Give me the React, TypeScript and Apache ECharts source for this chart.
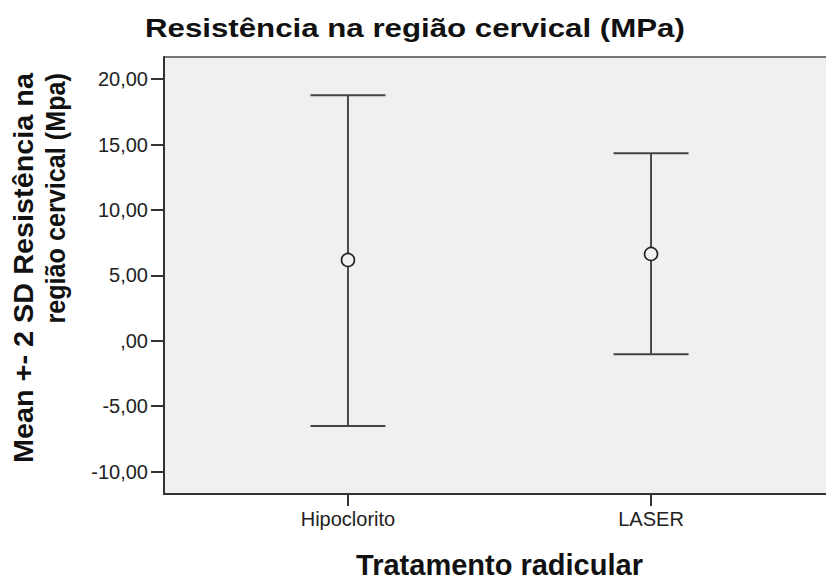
import React, { useEffect, useRef } from "react";
import * as echarts from "echarts";

const categories = ["Hipoclorito", "LASER"];
const means = [6.17, 6.63];
const lowerBounds = [-6.52, -1.04];
const upperBounds = [18.76, 14.33];
const yTicks = [-10, -5, 0, 5, 10, 15, 20];

const titleText = "Resistência na região cervical (MPa)";
const xTitle = "Tratamento radicular";
const yTitleLines = ["Mean +- 2 SD Resistência na", "região cervical (Mpa)"];

const fmtY = (v: number) => {
  if (v === 0) return ",00";
  return v.toFixed(2).replace(".", ",");
};

export default function App() {
  const ref = useRef<HTMLDivElement>(null);
  useEffect(() => {
    if (!ref.current) return;
    const chart = echarts.init(ref.current, undefined, { renderer: "svg" });
    const xPos = categories.map((_, i) => i + 1);
    const errData = categories.map((_, i) => [xPos[i], lowerBounds[i], upperBounds[i]]);
    const meanData = categories.map((_, i) => [xPos[i], means[i]]);
    const font = "Liberation Sans, Arial, sans-serif";
    chart.setOption({
      animation: false,
      backgroundColor: "#ffffff",
      grid: {
        left: 164,
        top: 57,
        right: -9,
        bottom: 86,
        show: true,
        backgroundColor: "#f0f0f0",
        borderColor: "#777",
        borderWidth: 2,
        containLabel: false,
        outerBoundsMode: "none",
      },
      graphic: [
        {
          type: "text",
          x: 145,
          y: 28,
          scaleX: 1.25,
          style: {
            text: titleText,
            font: `bold 25px ${font}`,
            fill: "#111",
            align: "left",
            verticalAlign: "middle",
          },
        },
        {
          type: "text",
          x: 23,
          y: 73,
          rotation: Math.PI / 2,
          scaleX: 1.03,
          style: {
            text: yTitleLines[0],
            font: `bold 28px ${font}`,
            fill: "#111",
            align: "right",
            verticalAlign: "middle",
          },
        },
        {
          type: "text",
          x: 56,
          y: 73,
          rotation: Math.PI / 2,
          scaleX: 0.9,
          style: {
            text: yTitleLines[1],
            font: `bold 28px ${font}`,
            fill: "#111",
            align: "right",
            verticalAlign: "middle",
          },
        },
      ],
      xAxis: {
        type: "value",
        min: 0.393,
        max: 2.607,
        name: xTitle,
        nameLocation: "middle",
        nameGap: 56,
        nameTextStyle: { fontFamily: font, fontWeight: "bold", fontSize: 29, color: "#111" },
        axisLine: { show: true, onZero: false, lineStyle: { color: "#333", width: 2 } },
        axisTick: { show: true, customValues: xPos, length: 12, lineStyle: { color: "#333", width: 2 } },
        axisLabel: {
          customValues: xPos,
          margin: 15,
          fontFamily: font,
          fontSize: 20,
          color: "#222",
          formatter: (v: number) => categories[Math.round(v) - 1] ?? "",
        },
        splitLine: { show: false },
      },
      yAxis: {
        type: "value",
        min: -11.72,
        max: 21.69,
        axisLine: { show: true, onZero: false, lineStyle: { color: "#333", width: 2 } },
        axisTick: { show: true, customValues: yTicks, length: 13, lineStyle: { color: "#333", width: 2 } },
        axisLabel: {
          customValues: yTicks,
          margin: 16,
          fontFamily: font,
          fontSize: 20,
          color: "#222",
          formatter: fmtY,
        },
        splitLine: { show: false },
      },
      series: [
        {
          type: "custom",
          data: errData,
          encode: { x: 0, y: [1, 2] },
          z: 2,
          renderItem: (params: any, api: any) => {
            const x = api.value(0);
            const lo = api.coord([x, api.value(1)]);
            const hi = api.coord([x, api.value(2)]);
            const hw = 37.5;
            return {
              type: "group",
              children: [
                { type: "line", shape: { x1: lo[0], y1: lo[1], x2: hi[0], y2: hi[1] }, style: { stroke: "#222", lineWidth: 1.6 } },
                { type: "line", shape: { x1: hi[0] - hw, y1: hi[1], x2: hi[0] + hw, y2: hi[1] }, style: { stroke: "#444", lineWidth: 2 } },
                { type: "line", shape: { x1: lo[0] - hw, y1: lo[1], x2: lo[0] + hw, y2: lo[1] }, style: { stroke: "#444", lineWidth: 2 } },
              ],
            };
          },
        },
        {
          type: "scatter",
          data: meanData,
          z: 3,
          symbol: "circle",
          symbolSize: 13,
          itemStyle: { color: "#f0f0f0", borderColor: "#222", borderWidth: 1.6, opacity: 1 },
        },
      ],
    });
    return () => chart.dispose();
  }, []);
  return (
    <div
      ref={ref}
      style={{ position: "fixed", left: 0, top: 0, width: 826, height: 580, overflow: "hidden", background: "#fff" }}
    />
  );
}
